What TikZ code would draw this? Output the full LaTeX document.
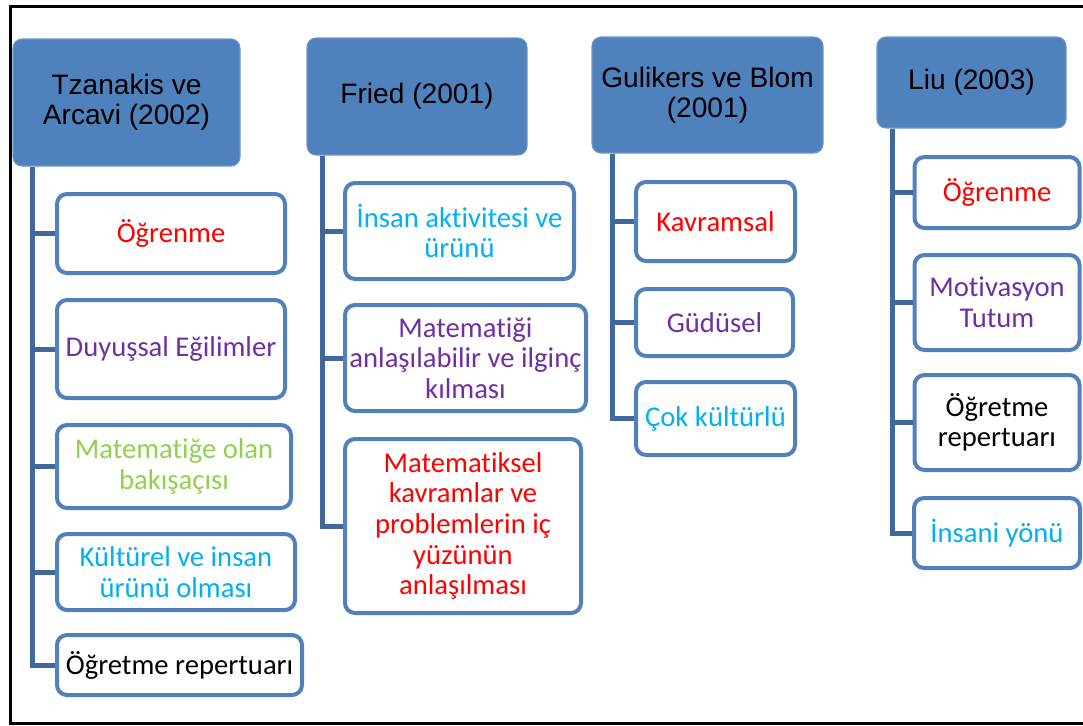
\documentclass[tikz,border=0pt]{standalone}
\usepackage{fontspec}
\usepackage{tikz}
\usetikzlibrary{calc}

\newfontfamily\hdrfont{Liberation Sans}
\newfontfamily\itemfont{Carlito}[Ligatures={NoCommon}]

\definecolor{hdrblue}{HTML}{4F81BD}
\definecolor{hdredge}{HTML}{6E96C9}
\definecolor{itemblue}{HTML}{5081BD}
\definecolor{linkblue}{HTML}{41689A}
\definecolor{itred}{HTML}{FF0000}
\definecolor{itpurple}{HTML}{7030A0}
\definecolor{itgreen}{HTML}{92D050}
\definecolor{itcyan}{HTML}{00B0F0}

\newdimen\pxu
\pxu=0.02cm

\begin{document}
\begin{tikzpicture}[
    x=0.02cm, y=-0.02cm,
    hdr/.style={fill=hdrblue, draw=hdredge, line width=0.6pt, rounded corners=9\pxu, inner sep=2pt, align=center, font=\hdrfont\fontsize{16}{17.3}\selectfont},
    item/.style={fill=white, draw=itemblue, line width=4\pxu, rounded corners=10\pxu, inner sep=2pt, align=center, font=\itemfont\fontsize{16.3}{17.4}\selectfont},
    sz/.style 2 args={minimum width=#1\pxu, minimum height=#2\pxu},
    link/.style={draw=linkblue, line width=5\pxu},
]
\useasboundingbox (0,0) rectangle (1083,725);

% cerceve
\draw[line width=3\pxu] (1083,6) -- (10,6) -- (10,723) -- (1083,723);

% basliklar
\node[hdr, sz={227}{127}] (tzan)  at (126.5,102.5) {Tzanakis ve\\Arcavi (2002)};
\node[hdr, sz={220}{117}] (fried) at (417,96.5)    {Fried (2001)};
\node[hdr, sz={231}{116}] (gulik) at (707.5,95)    {Gulikers ve Blom\\(2001)};
\node[hdr, sz={189}{91}]  (liu)   at (971.5,82.5)  {Liu (2003)};

% Tzanakis ve Arcavi
\node[item, sz={228}{79},  text=itred]    (tz1) at (171,233.5)   {Öğrenme};
\node[item, sz={228}{98},  text=itpurple] (tz2) at (171,349)     {Duyuşsal Eğilimler};
\node[item, sz={234}{83},  text=itgreen]  (tz3) at (174,466.5)   {Matematiğe olan\\bakışaçısı};
\node[item, sz={238}{76},  text=itcyan]   (tz4) at (176,572)     {Kültürel ve insan\\ürünü olması};
\node[item, sz={245}{60},  text=black]    (tz5) at (179.5,665)   {Öğretme repertuarı};

% Fried
\node[item, sz={229}{96},  text=itcyan]   (fr1) at (459.5,231)   {İnsan aktivitesi ve\\ürünü};
\node[item, sz={241}{106}, text=itpurple] (fr2) at (465.5,358)   {Matematiği\\anlaşılabilir ve ilginç\\kılması};
\node[item, sz={236}{174}, text=itred]    (fr3) at (463,526)     {Matematiksel\\kavramlar ve\\problemlerin iç\\yüzünün\\anlaşılması};

% Gulikers ve Blom
\node[item, sz={159}{79},  text=itred]    (gb1) at (715.5,221.5) {Kavramsal};
\node[item, sz={157}{67},  text=itpurple] (gb2) at (714.5,322.5) {Güdüsel};
\node[item, sz={159}{73},  text=itcyan]   (gb3) at (715.5,418.5) {Çok kültürlü};

% Liu
\node[item, sz={165}{71},  text=itred]    (li1) at (997,192.5)   {Öğrenme};
\node[item, sz={165}{95},  text=itpurple] (li2) at (997,302.5)   {Motivasyon\\Tutum};
\node[item, sz={165}{95},  text=black]    (li3) at (997,422.5)   {Öğretme\\repertuarı};
\node[item, sz={166}{70},  text=itcyan]   (li4) at (997,533)     {İnsani yönü};

% baglantilar
\coordinate (tzt) at ($(tzan.south west)+(20,0)$);
\coordinate (frt) at ($(fried.south west)+(16,0)$);
\coordinate (gbt) at ($(gulik.south west)+(21,0)$);
\coordinate (lit) at ($(liu.south west)+(16,0)$);

\foreach \c in {tz1,tz2,tz3,tz4,tz5} \draw[link] (tzt) |- (\c.west);
\foreach \c in {fr1,fr2,fr3} \draw[link] (frt) |- (\c.west);
\foreach \c in {gb1,gb2,gb3} \draw[link] (gbt) |- (\c.west);
\foreach \c in {li1,li2,li3,li4} \draw[link] (lit) |- (\c.west);

\end{tikzpicture}
\end{document}
